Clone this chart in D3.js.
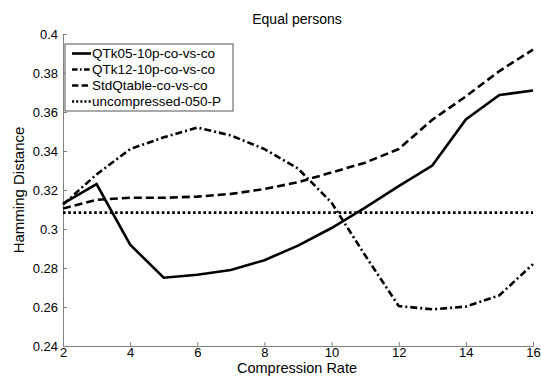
<!DOCTYPE html>
<html>
<head>
<meta charset="utf-8">
<script src="https://cdn.jsdelivr.net/npm/d3@7"></script>
<style>
  body { margin: 0; background: #fff; }
  svg { display: block; font-family: "Liberation Sans", Arial, sans-serif; }
  .axis path, .axis line { stroke: #7f7f7f; }
  .axis text { fill: #000; font-size: 13px; }
</style>
</head>
<body>
<div id="graphic"></div>
<script>
// compression rates on the x axis
const rates = [2, 3, 4, 5, 6, 7, 8, 9, 10, 11, 12, 13, 14, 15, 16];

// hamming distance per series
const qtk05 = [0.313, 0.323, 0.292, 0.275, 0.2765, 0.279, 0.284, 0.2915, 0.3005, 0.311, 0.322, 0.3325, 0.3562, 0.3687, 0.371];
const qtk12 = [0.3125, 0.328, 0.341, 0.347, 0.352, 0.348, 0.341, 0.331, 0.3135, 0.2865, 0.2605, 0.2588, 0.2602, 0.266, 0.282];
const stdq = [0.3105, 0.315, 0.316, 0.316, 0.3166, 0.318, 0.3205, 0.324, 0.329, 0.334, 0.341, 0.356, 0.368, 0.381, 0.392];
const uncompressed = [0.3084, 0.3084, 0.3084, 0.3084, 0.3084, 0.3084, 0.3084, 0.3084, 0.3084, 0.3084, 0.3084, 0.3084, 0.3084, 0.3084, 0.3084];

const seriesNames = ['QTk05-10p-co-vs-co', 'QTk12-10p-co-vs-co', 'StdQtable-co-vs-co', 'uncompressed-050-P'];
const seriesValues = [qtk05, qtk12, stdq, uncompressed];
const dashes = [null, '7,3,2,3', '8,4', '2.6,2.6'];

const xTicks = [2, 4, 6, 8, 10, 12, 14, 16];
const yTicks = [0.24, 0.26, 0.28, 0.3, 0.32, 0.34, 0.36, 0.38, 0.4];

const width = 541, height = 378;
const margin = { top: 34, right: 8, bottom: 32, left: 63 };

const svg = d3.select('#graphic').append('svg')
  .attr('width', width)
  .attr('height', height);

const x = d3.scaleLinear().domain([2, 16]).range([margin.left, width - margin.right]);
const y = d3.scaleLinear().domain([0.24, 0.4]).range([height - margin.bottom, margin.top]);

// axes, ticks pointing inwards like matlab
svg.append('g')
  .attr('class', 'x axis')
  .attr('transform', `translate(0,${y(0.24)})`)
  .call(d3.axisBottom(x).tickValues(xTicks).tickSize(-4).tickPadding(2).tickSizeOuter(0).tickFormat(d3.format('d')));

svg.append('g')
  .attr('class', 'y axis')
  .attr('transform', `translate(${x(2)},0)`)
  .call(d3.axisLeft(y).tickValues(yTicks).tickSize(-4).tickPadding(5).tickSizeOuter(0).tickFormat(d => d3.format('')(+d.toFixed(2))));

// lines
const line = d3.line()
  .x((d, i) => x(rates[i]))
  .y(d => y(d));

svg.selectAll('path.series')
  .data(seriesValues)
  .join('path')
  .attr('class', 'series')
  .attr('d', d => line(d))
  .attr('fill', 'none')
  .attr('stroke', '#000')
  .attr('stroke-width', 2.6)
  .attr('stroke-dasharray', (d, i) => dashes[i]);

// title and axis labels
svg.append('text')
  .attr('x', 297).attr('y', 24)
  .attr('text-anchor', 'middle')
  .attr('font-size', 14)
  .text('Equal persons');

svg.append('text')
  .attr('x', 297).attr('y', 373)
  .attr('text-anchor', 'middle')
  .attr('font-size', 14.5)
  .text('Compression Rate');

svg.append('text')
  .attr('transform', 'translate(24,' + 190 + ') rotate(-90)')
  .attr('text-anchor', 'middle')
  .attr('font-size', 15)
  .text('Hamming Distance');

// legend
const legend = svg.append('g').attr('transform', 'translate(65,44)');
legend.append('rect')
  .attr('width', 168).attr('height', 67)
  .attr('fill', '#fff')
  .attr('stroke', '#555');

const item = legend.selectAll('g.item')
  .data(seriesNames)
  .join('g')
  .attr('class', 'item')
  .attr('transform', (d, i) => `translate(0,${9.5 + i * 16})`);

item.append('line')
  .attr('x1', 7).attr('x2', 26)
  .attr('stroke', '#000')
  .attr('stroke-width', 2.6)
  .attr('stroke-dasharray', (d, i) => dashes[i] ? dashes[i].split(',').map(v => +v * 0.8).join(',') : null);

item.append('text')
  .attr('x', 27).attr('y', 4.5)
  .attr('font-size', 13.5)
  .text(d => d);
</script>
</body>
</html>
